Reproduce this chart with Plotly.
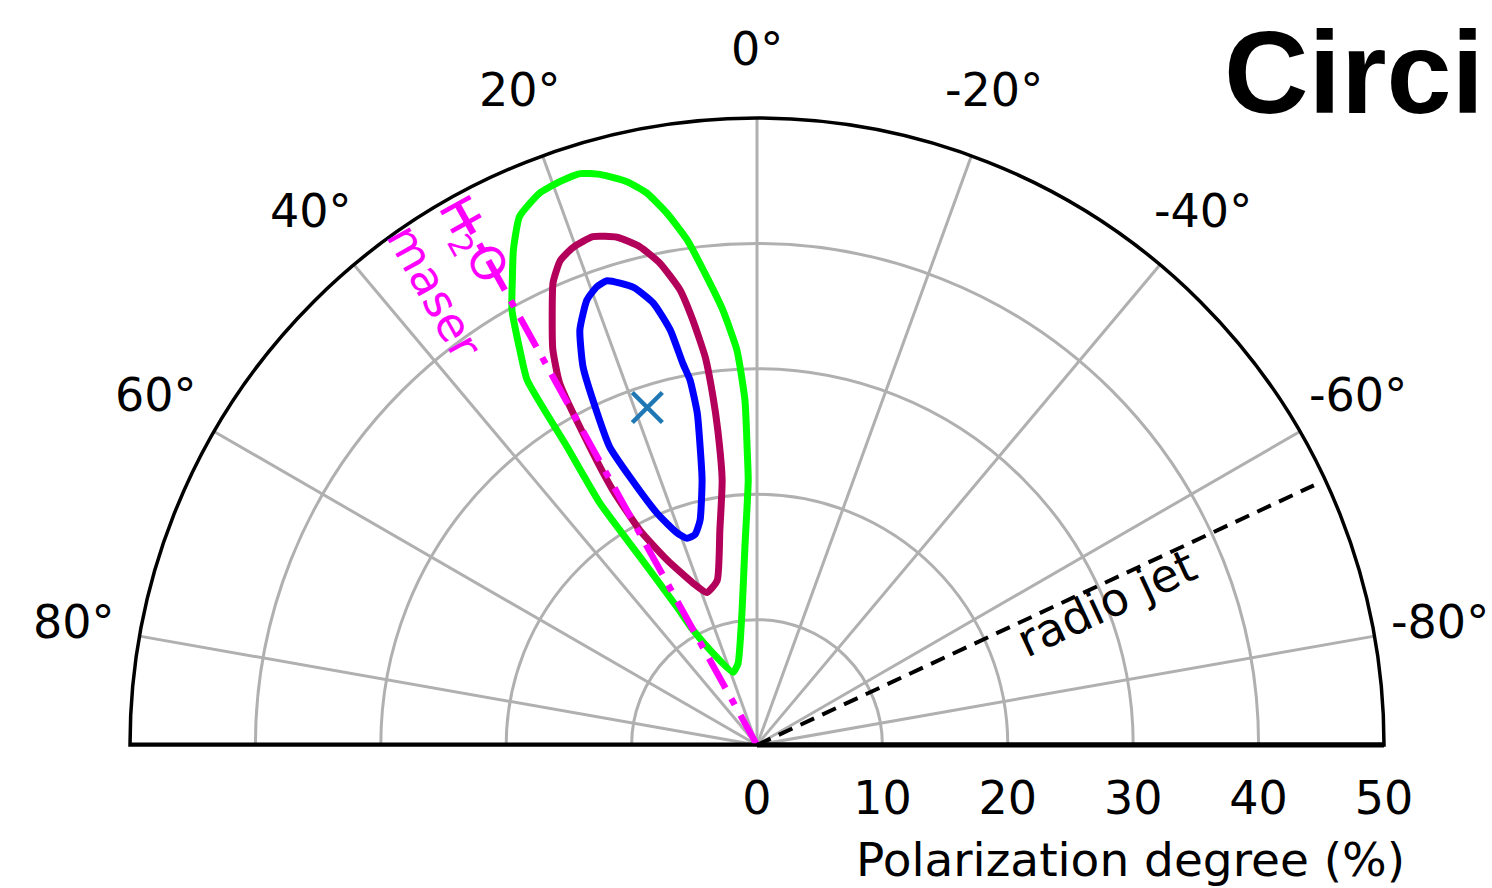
import numpy as np
import plotly.graph_objects as go

# ---------------- data (theta in degrees, positive = left of vertical; r in %) ----------------
green_theta = [18.2, 13.0, 6.5, 3.5, 1.9, 1.9, 2.0, 2.9, 4.5, 6.1, 7.9, 9.6, 11.3, 13.0, 15.4,
               17.2, 19.3, 21.5, 24.2, 26.2, 27.6, 29.4, 31.0, 32.2, 32.5, 33.0, 31.9, 30.1,
               29.1, 25.6, 18.2]
green_r = [6.1, 6.7, 10.6, 15.8, 21.1, 23.5, 27.5, 31.5, 34.8, 37.5, 40.7, 43.0, 44.9, 46.1, 47.2,
           47.7, 47.6, 47.3, 46.2, 44.0, 42.1, 39.8, 36.7, 34.4, 28.2, 23.0, 17.7, 12.7,
           10.5, 8.1, 6.1]

crimson_theta = [18.2, 13.6, 9.8, 7.5, 7.1, 7.2, 7.6, 8.6, 9.6, 11.4, 13.2, 15.4, 17.9, 20.3,
                 22.1, 23.8, 25.6, 27.3, 28.6, 29.3, 29.5, 28.6, 25.9, 21.6, 18.2]
crimson_r = [12.8, 13.5, 17.4, 21.3, 25.3, 28.0, 31.2, 34.3, 36.8, 39.2, 40.8, 42.0, 42.6, 42.3,
             41.7, 40.3, 37.8, 35.5, 32.9, 27.2, 23.4, 19.5, 16.4, 13.9, 12.8]

blue_theta = [18.7, 16.4, 14.2, 11.7, 10.8, 10.2, 10.4, 11.0, 11.8, 13.2, 15.1, 17.9, 19.3, 20.9,
              23.1, 24.7, 25.7, 26.3, 25.4, 23.3, 20.7, 18.7]
blue_r = [17.4, 17.5, 18.5, 21.6, 24.2, 26.9, 29.6, 31.0, 33.8, 36.2, 37.8, 38.9, 38.7, 38.0,
          36.0, 33.2, 29.4, 26.5, 23.7, 20.1, 18.1, 17.4]

peak_theta = [18.0]
peak_r = [28.3]

maser_theta = 29.0
jet_theta = -65.0
maser_r = [0, 50]
jet_r = [0, 49]

angle_ticks = [-80, -60, -40, -20, 0, 20, 40, 60, 80]
angle_labels = ["-80°", "-60°", "-40°", "-20°", "0°", "20°", "40°", "60°", "80°"]
radial_ticks = [0, 10, 20, 30, 40, 50]
radial_labels = ["0", "10", "20", "30", "40", "50"]
angle_label_r = 55.3

# annotation anchors (r, theta)
maser_label = (44.2, 32.3)
jet_label = (30.1, -67.9)
axis_title_xy = (29.8, -9.1)

# ---------------- layout geometry ----------------
W, H = 1492, 888
CX, CY, R = 757, 745, 627
RMAX = 50.0
S = R / RMAX  # pixels per radial unit
dom_x = [(CX - R) / W, (CX + R) / W]
dom_y = [(H - CY) / H, (H - CY + R) / H]
FONT = "DejaVu Sans"


def to_xy(r, th):
    t = np.deg2rad(th)
    return float(-r * np.sin(t)), float(r * np.cos(t))


fig = go.Figure()

# invisible cartesian helper spanning the whole figure, same units as the radial axis
fig.add_trace(go.Scatter(x=[0], y=[0], mode="markers", marker=dict(opacity=0),
                         hoverinfo="skip", showlegend=False))

# frame: bottom diameter
fig.add_trace(go.Scatterpolar(r=[RMAX, 0, RMAX], theta=[90, 0, -90], mode="lines",
                              line=dict(color="black", width=5), hoverinfo="skip",
                              showlegend=False))

LW = 7
fig.add_trace(go.Scatterpolar(r=green_r, theta=green_theta, mode="lines",
                              line=dict(color="#00ff00", width=LW, shape="spline", smoothing=0.5),
                              showlegend=False))
fig.add_trace(go.Scatterpolar(r=crimson_r, theta=crimson_theta, mode="lines",
                              line=dict(color="#b3005a", width=LW, shape="spline", smoothing=0.5),
                              showlegend=False))
fig.add_trace(go.Scatterpolar(r=blue_r, theta=blue_theta, mode="lines",
                              line=dict(color="#0000ff", width=LW, shape="spline", smoothing=0.5),
                              showlegend=False))
fig.add_trace(go.Scatterpolar(r=maser_r, theta=[maser_theta] * 2, mode="lines",
                              line=dict(color="#ff00ff", width=6.5, dash="34px,12px,7px,12px"),
                              showlegend=False))
fig.add_trace(go.Scatterpolar(r=jet_r, theta=[jet_theta] * 2, mode="lines",
                              line=dict(color="black", width=4, dash="15px,9px"),
                              showlegend=False))
fig.add_trace(go.Scatterpolar(r=peak_r, theta=peak_theta, mode="markers",
                              marker=dict(symbol="x-thin", size=30, color="#1f77b4",
                                          line=dict(color="#1f77b4", width=4.5)),
                              showlegend=False))

annotations = []
for val, lab in zip(angle_ticks, angle_labels):
    ax_, ay_ = to_xy(angle_label_r, val)
    annotations.append(dict(x=ax_, y=ay_, xref="x", yref="y", text=lab, showarrow=False,
                            xanchor="center", yanchor="middle", yshift=3,
                            font=dict(family=FONT, size=46, color="black")))

mx, my = to_xy(*maser_label)
jx, jy = to_xy(*jet_label)
annotations += [
    dict(x=mx, y=my, xref="x", yref="y", text="H<sub>2</sub>O<br>maser",
         textangle=61, showarrow=False, align="left",
         font=dict(family=FONT, size=46, color="#ff00ff")),
    dict(x=jx, y=jy, xref="x", yref="y", text="radio jet", textangle=-25,
         showarrow=False, font=dict(family=FONT, size=46, color="black")),
    dict(x=axis_title_xy[0], y=axis_title_xy[1], xref="x", yref="y",
         text="Polarization degree (%)",
         showarrow=False, font=dict(family=FONT, size=47, color="black")),
    dict(x=1222 / W, y=1 - 72 / H, xref="paper", yref="paper", text="<b>Circi</b>",
         xanchor="left", yanchor="middle", showarrow=False,
         font=dict(family="Liberation Sans", size=117, color="black")),
]

fig.update_layout(
    width=W, height=H,
    margin=dict(l=0, r=0, t=0, b=0),
    paper_bgcolor="white",
    plot_bgcolor="rgba(0,0,0,0)",
    showlegend=False,
    font=dict(family=FONT, color="black"),
    xaxis=dict(domain=[0, 1], range=[-CX / S, (W - CX) / S], visible=False, fixedrange=True),
    yaxis=dict(domain=[0, 1], range=[(CY - H) / S, CY / S], visible=False, fixedrange=True),
    polar=dict(
        domain=dict(x=dom_x, y=dom_y),
        sector=[0, 180],
        bgcolor="white",
        angularaxis=dict(rotation=90, direction="counterclockwise", tickmode="array",
                         tickvals=angle_ticks, showticklabels=False, ticks="",
                         showline=True, linecolor="black", linewidth=3.5,
                         showgrid=True, gridcolor="#b0b0b0", gridwidth=3),
        radialaxis=dict(range=[0, RMAX], tickmode="array", tickvals=radial_ticks,
                        ticktext=radial_labels, angle=0, side="clockwise",
                        showline=True, linecolor="black", linewidth=5,
                        showgrid=True, gridcolor="#b0b0b0", gridwidth=3,
                        ticks="outside", ticklen=11, tickcolor="rgba(0,0,0,0)",
                        tickfont=dict(family=FONT, size=46, color="black")),
    ),
    annotations=annotations,
)

fig.write_html("out.html")
